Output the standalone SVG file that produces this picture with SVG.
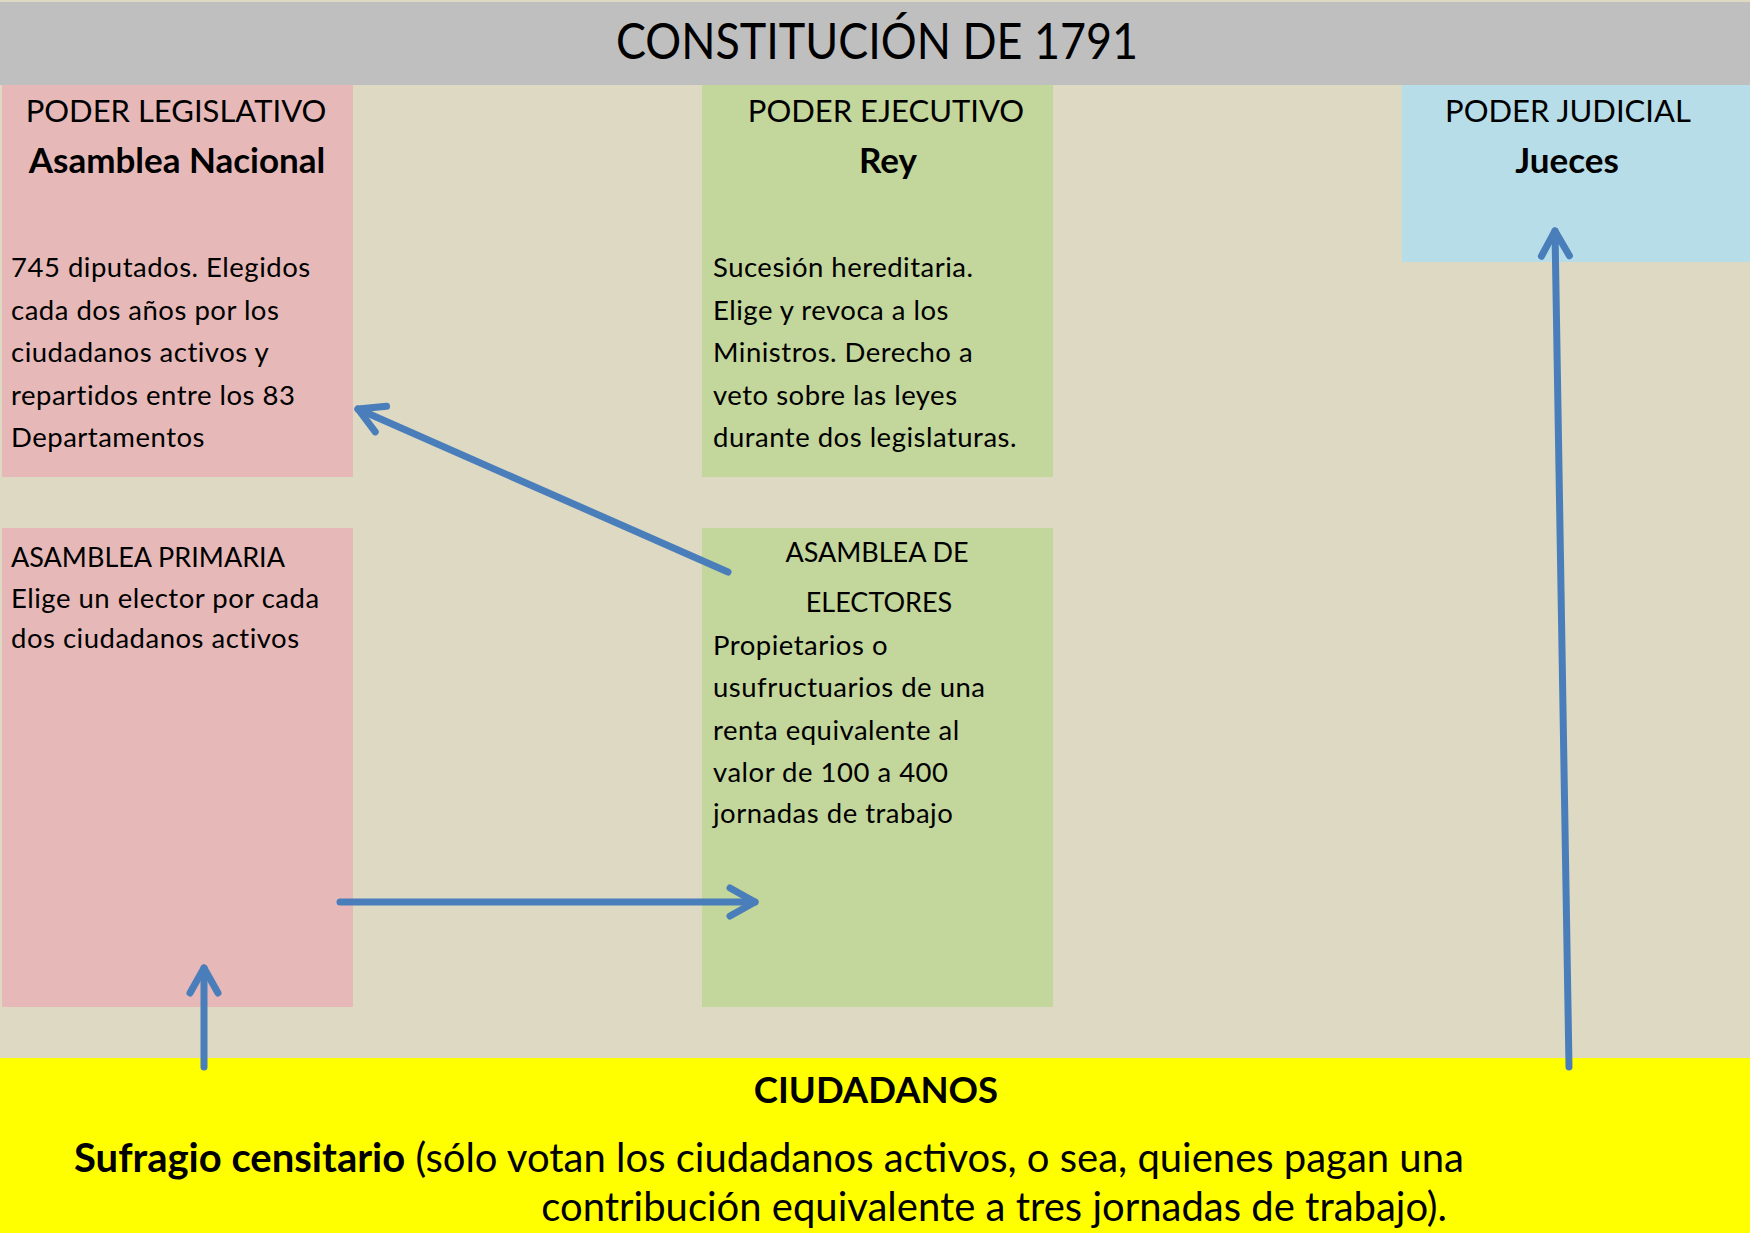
<svg xmlns="http://www.w3.org/2000/svg" width="1750" height="1233" viewBox="0 0 1750 1233">
<defs>
<style>
text{font-family:Lato,"Open Sans","Liberation Sans",sans-serif;fill:#000}
.hd{font-size:31px;text-anchor:middle}
.bh{font-size:35px;font-weight:bold;text-anchor:middle}
.bd{font-size:27.5px;letter-spacing:0.5px}
.up{font-size:27px}
.cn{fill:none;stroke:#4a7ebb;stroke-width:7;stroke-linecap:round}
</style>
<marker id="ah" viewBox="-35 -35 70 70" markerWidth="70" markerHeight="70" refX="0" refY="0" orient="auto" markerUnits="userSpaceOnUse">
<path d="M-25,-14 L0,0 L-25,14" fill="none" stroke="#4a7ebb" stroke-width="7" stroke-linecap="round" stroke-linejoin="round"/>
</marker>
</defs>
<rect x="0" y="0" width="1750" height="1233" fill="#ddd9c3"/>
<g id="title">
<rect x="0" y="2" width="1750" height="83" fill="#bfbfbf"/>
<text x="877" y="59" font-size="50" text-anchor="middle" textLength="522" lengthAdjust="spacingAndGlyphs">CONSTITUCIÓN DE 1791</text>
</g>
<g id="legislativo">
<rect x="2" y="85" width="351" height="392" fill="#e6b9b8"/>
<text class="hd" x="176" y="122">PODER LEGISLATIVO</text>
<text class="bh" x="177" y="173">Asamblea Nacional</text>
<text class="bd"><tspan x="11" y="277">745 diputados. Elegidos</tspan><tspan x="11" y="320">cada dos años por los</tspan><tspan x="11" y="362">ciudadanos activos y</tspan><tspan x="11" y="405">repartidos entre los 83</tspan><tspan x="11" y="447">Departamentos</tspan></text>
</g>
<g id="ejecutivo">
<rect x="702" y="85" width="351" height="392" fill="#c3d69b"/>
<text class="hd" x="886" y="122">PODER EJECUTIVO</text>
<text class="bh" x="888" y="173">Rey</text>
<text class="bd"><tspan x="713" y="277">Sucesión hereditaria.</tspan><tspan x="713" y="320">Elige y revoca a los</tspan><tspan x="713" y="362">Ministros. Derecho a</tspan><tspan x="713" y="405">veto sobre las leyes</tspan><tspan x="713" y="447">durante dos legislaturas.</tspan></text>
</g>
<g id="judicial">
<rect x="1402" y="85" width="348" height="177" fill="#b7dde8"/>
<text class="hd" x="1568" y="122">PODER JUDICIAL</text>
<text class="bh" x="1567" y="173">Jueces</text>
</g>
<g id="primaria">
<rect x="2" y="528" width="351" height="479" fill="#e6b9b8"/>
<text class="up" x="11" y="567">ASAMBLEA PRIMARIA</text>
<text class="bd"><tspan x="11" y="608">Elige un elector por cada</tspan><tspan x="11" y="648">dos ciudadanos activos</tspan></text>
</g>
<g id="electores">
<rect x="702" y="528" width="351" height="479" fill="#c3d69b"/>
<text class="up" text-anchor="middle"><tspan x="877" y="562">ASAMBLEA DE</tspan><tspan x="879" y="612">ELECTORES</tspan></text>
<text class="bd"><tspan x="713" y="655">Propietarios o</tspan><tspan x="713" y="697">usufructuarios de una</tspan><tspan x="713" y="740">renta equivalente al</tspan><tspan x="713" y="782">valor de 100 a 400</tspan><tspan x="713" y="823">jornadas de trabajo</tspan></text>
</g>
<g id="ciudadanos">
<rect x="0" y="1058" width="1750" height="175" fill="#ffff00"/>
<text x="876" y="1103" font-size="36.5" font-weight="bold" text-anchor="middle">CIUDADANOS</text>
<text x="74" y="1172" font-size="40"><tspan font-weight="bold">Sufragio censitario</tspan> (sólo votan los ciudadanos activos, o sea, quienes pagan una</text>
<text x="1447" y="1221" font-size="40" text-anchor="end">contribución equivalente a tres jornadas de trabajo).</text>
</g>
<g id="connectors">
<line class="cn" x1="728" y1="572" x2="358" y2="409" marker-end="url(#ah)"/>
<line class="cn" x1="340" y1="902" x2="755" y2="902" marker-end="url(#ah)"/>
<line class="cn" x1="204" y1="1067" x2="204" y2="968" marker-end="url(#ah)"/>
<line class="cn" x1="1569" y1="1067" x2="1555" y2="231" marker-end="url(#ah)"/>
</g>
</svg>
